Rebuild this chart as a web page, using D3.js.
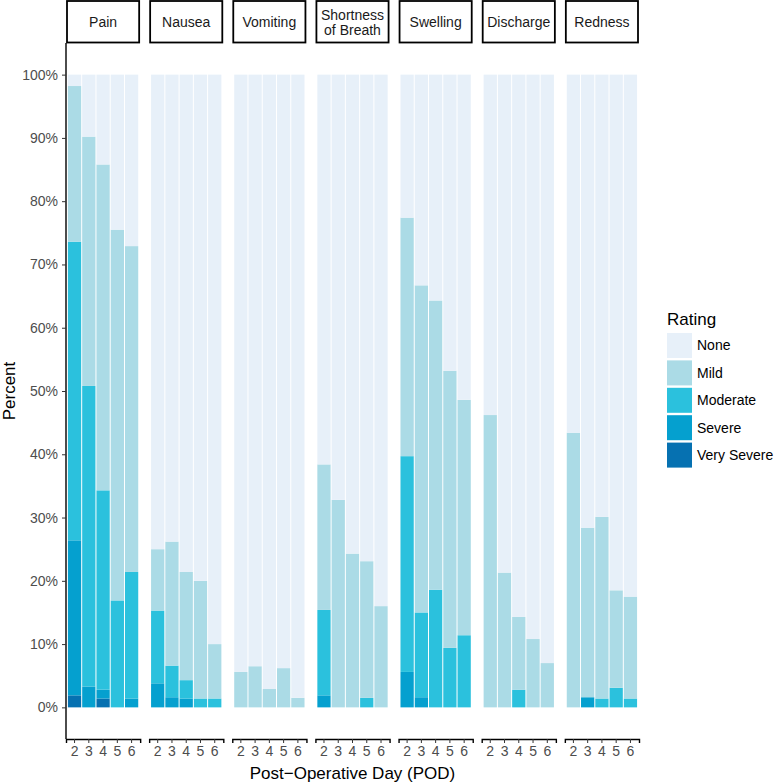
<!DOCTYPE html>
<html>
<head>
    <title>Post-Operative Symptoms</title>
    <script src="https://d3js.org/d3.v7.min.js"></script>
    <style>
        body { margin: 0; background: #fff; }
        text { font-family: "Liberation Sans", Arial, Helvetica, sans-serif; }
    </style>
</head>
<body>
    <div id="chart"></div>

    <script>
        // Data: percent of patients per rating, rows = symptom, columns = POD 2..6
        var symptoms = ["Pain", "Nausea", "Vomiting", "Shortness of Breath", "Swelling", "Discharge", "Redness"];
        var days = ["2", "3", "4", "5", "6"];
        var ratings = ["None", "Mild", "Moderate", "Severe", "Very Severe"];

        var verySevere = [
            [1.9, 0, 1.4, 0, 0],
            [0, 0, 0, 0, 0],
            [0, 0, 0, 0, 0],
            [0, 0, 0, 0, 0],
            [0, 0, 0, 0, 0],
            [0, 0, 0, 0, 0],
            [0, 0, 0, 0, 0]
        ];
        var severe = [
            [24.5, 3.3, 1.4, 0, 1.4],
            [3.8, 1.6, 1.4, 0, 0],
            [0, 0, 0, 0, 0],
            [1.9, 0, 0, 0, 0],
            [5.6, 1.6, 0, 0, 0],
            [0, 0, 0, 0, 0],
            [0, 1.6, 0, 0, 0]
        ];
        var moderate = [
            [47.2, 47.5, 31.5, 16.9, 20.0],
            [11.5, 5.0, 2.9, 1.4, 1.4],
            [0, 0, 0, 0, 0],
            [13.5, 0, 0, 1.5, 0],
            [34.1, 13.4, 18.6, 9.4, 11.4],
            [0, 0, 2.8, 0, 0],
            [0, 0, 1.4, 3.1, 1.4]
        ];
        var mild = [
            [24.6, 39.4, 51.5, 58.6, 51.5],
            [9.7, 19.6, 17.1, 18.6, 8.6],
            [5.6, 6.5, 2.9, 6.2, 1.5],
            [23.0, 32.8, 24.3, 21.6, 16.0],
            [37.7, 51.7, 45.7, 43.8, 37.2],
            [46.2, 21.3, 11.5, 10.8, 7.0],
            [43.4, 26.8, 28.7, 15.4, 16.1]
        ];
        var none = [
            [1.8, 9.8, 14.2, 24.5, 27.1],
            [75.0, 73.8, 78.6, 80.0, 90.0],
            [94.4, 93.5, 97.1, 93.8, 98.5],
            [61.6, 67.2, 75.7, 76.9, 84.0],
            [22.6, 33.3, 35.7, 46.8, 51.4],
            [53.8, 78.7, 85.7, 89.2, 93.0],
            [56.6, 71.6, 69.9, 81.5, 82.5]
        ];

        var width = 783, height = 782;
        var plotTop = 43, plotBottom = 739;

        var svg = d3.select("#chart").append("svg")
            .attr("width", width)
            .attr("height", height);

        // stack from bottom (Very Severe) to top (None)
        var stackOrder = ["Very Severe", "Severe", "Moderate", "Mild", "None"];
        var byRating = {
            "Very Severe": verySevere,
            "Severe": severe,
            "Moderate": moderate,
            "Mild": mild,
            "None": none
        };

        var color = d3.scaleOrdinal()
            .domain(ratings)
            .range(["#e7f0f9", "#abdbe6", "#2bc1dd", "#05a0cf", "#0671b1"]);

        var fx = d3.scaleBand()
            .domain(symptoms)
            .range([66, 639])
            .paddingInner(0.108)
            .paddingOuter(0);

        var x = d3.scaleBand()
            .domain(days)
            .range([0, fx.bandwidth()])
            .paddingInner(0)
            .paddingOuter(0.1);

        var y = d3.scaleLinear()
            .domain([-0.05, 1.05])
            .range([plotBottom, plotTop]);

        var stack = d3.stack().keys(stackOrder);

        symptoms.forEach(function(s, si) {
            var rows = days.map(function(d, di) {
                var r = { day: d };
                stackOrder.forEach(function(k) {
                    r[k] = byRating[k][si][di] / 100;
                });
                return r;
            });
            var series = stack(rows);

            var panel = svg.append("g")
                .attr("transform", "translate(" + fx(s) + ",0)");

            panel.selectAll("g.layer")
                .data(series)
                .enter().append("g")
                .attr("class", "layer")
                .attr("fill", function(d) { return color(d.key); })
                .selectAll("rect")
                .data(function(d) { return d; })
                .enter().append("rect")
                .attr("x", function(d) { return x(d.data.day) + 0.5; })
                .attr("width", x.bandwidth() - 1)
                .attr("y", function(d) { return y(d[1]); })
                .attr("height", function(d) { return Math.max(0, y(d[0]) - y(d[1])); });

            // strip
            var strip = panel.append("g");
            strip.append("rect")
                .attr("x", 1)
                .attr("y", 1)
                .attr("width", fx.bandwidth() - 2)
                .attr("height", plotTop - 1.5)
                .attr("fill", "#fff")
                .attr("stroke", "#000")
                .attr("stroke-width", 1.8);
            var lines = s === "Shortness of Breath" ? ["Shortness", "of Breath"] : [s];
            strip.selectAll("text")
                .data(lines)
                .enter().append("text")
                .attr("x", fx.bandwidth() / 2)
                .attr("y", function(d, i) { return lines.length === 1 ? 27 : 20 + i * 14.5; })
                .attr("text-anchor", "middle")
                .style("font-size", "14px")
                .attr("fill", "#1a1a1a")
                .text(function(d) { return d; });

            // x axis per panel
            var xAxis = panel.append("g")
                .attr("transform", "translate(0," + plotBottom + ")")
                .call(d3.axisBottom(x).tickSize(4).tickPadding(3));
            xAxis.select(".domain").attr("stroke", "#000").attr("stroke-width", 1.4);
            xAxis.selectAll(".tick line").attr("stroke", "#333");
            xAxis.selectAll(".tick text")
                .attr("fill", "#4d4d4d")
                .style("font-size", "14px")
                .style("font-family", "'Liberation Sans', Arial, sans-serif");
        });

        // y axis
        var yAxis = svg.append("g")
            .attr("transform", "translate(66,0)")
            .call(d3.axisLeft(y)
                .tickValues(d3.range(0, 1.01, 0.1))
                .tickFormat(d3.format(".0%"))
                .tickSize(4)
                .tickPadding(4));
        yAxis.select(".domain").attr("d", "M0," + plotTop + "V" + plotBottom)
            .attr("stroke", "#000").attr("stroke-width", 1.4);
        yAxis.selectAll(".tick line").attr("stroke", "#333");
        yAxis.selectAll(".tick text")
            .attr("fill", "#4d4d4d")
            .style("font-size", "14px")
            .style("font-family", "'Liberation Sans', Arial, sans-serif");

        // axis titles
        svg.append("text")
            .attr("transform", "translate(15," + (plotTop + plotBottom) / 2 + ") rotate(-90)")
            .attr("text-anchor", "middle")
            .style("font-size", "17px")
            .text("Percent");

        svg.append("text")
            .attr("x", (66 + 639) / 2)
            .attr("y", 779)
            .attr("text-anchor", "middle")
            .style("font-size", "17px")
            .text("Post\u2212Operative Day (POD)");

        // legend
        var legend = svg.append("g").attr("transform", "translate(667,320)");
        legend.append("text")
            .attr("x", 0)
            .attr("y", 5)
            .style("font-size", "17px")
            .text("Rating");
        var item = legend.selectAll("g.item")
            .data(ratings)
            .enter().append("g")
            .attr("class", "item")
            .attr("transform", function(d, i) { return "translate(0," + (13 + i * 27.4) + ")"; });
        item.append("rect")
            .attr("width", 25)
            .attr("height", 25)
            .attr("fill", function(d) { return color(d); });
        item.append("text")
            .attr("x", 30)
            .attr("y", 12.5)
            .attr("dy", "0.35em")
            .style("font-size", "14px")
            .text(function(d) { return d; });
    </script>
</body>
</html>
